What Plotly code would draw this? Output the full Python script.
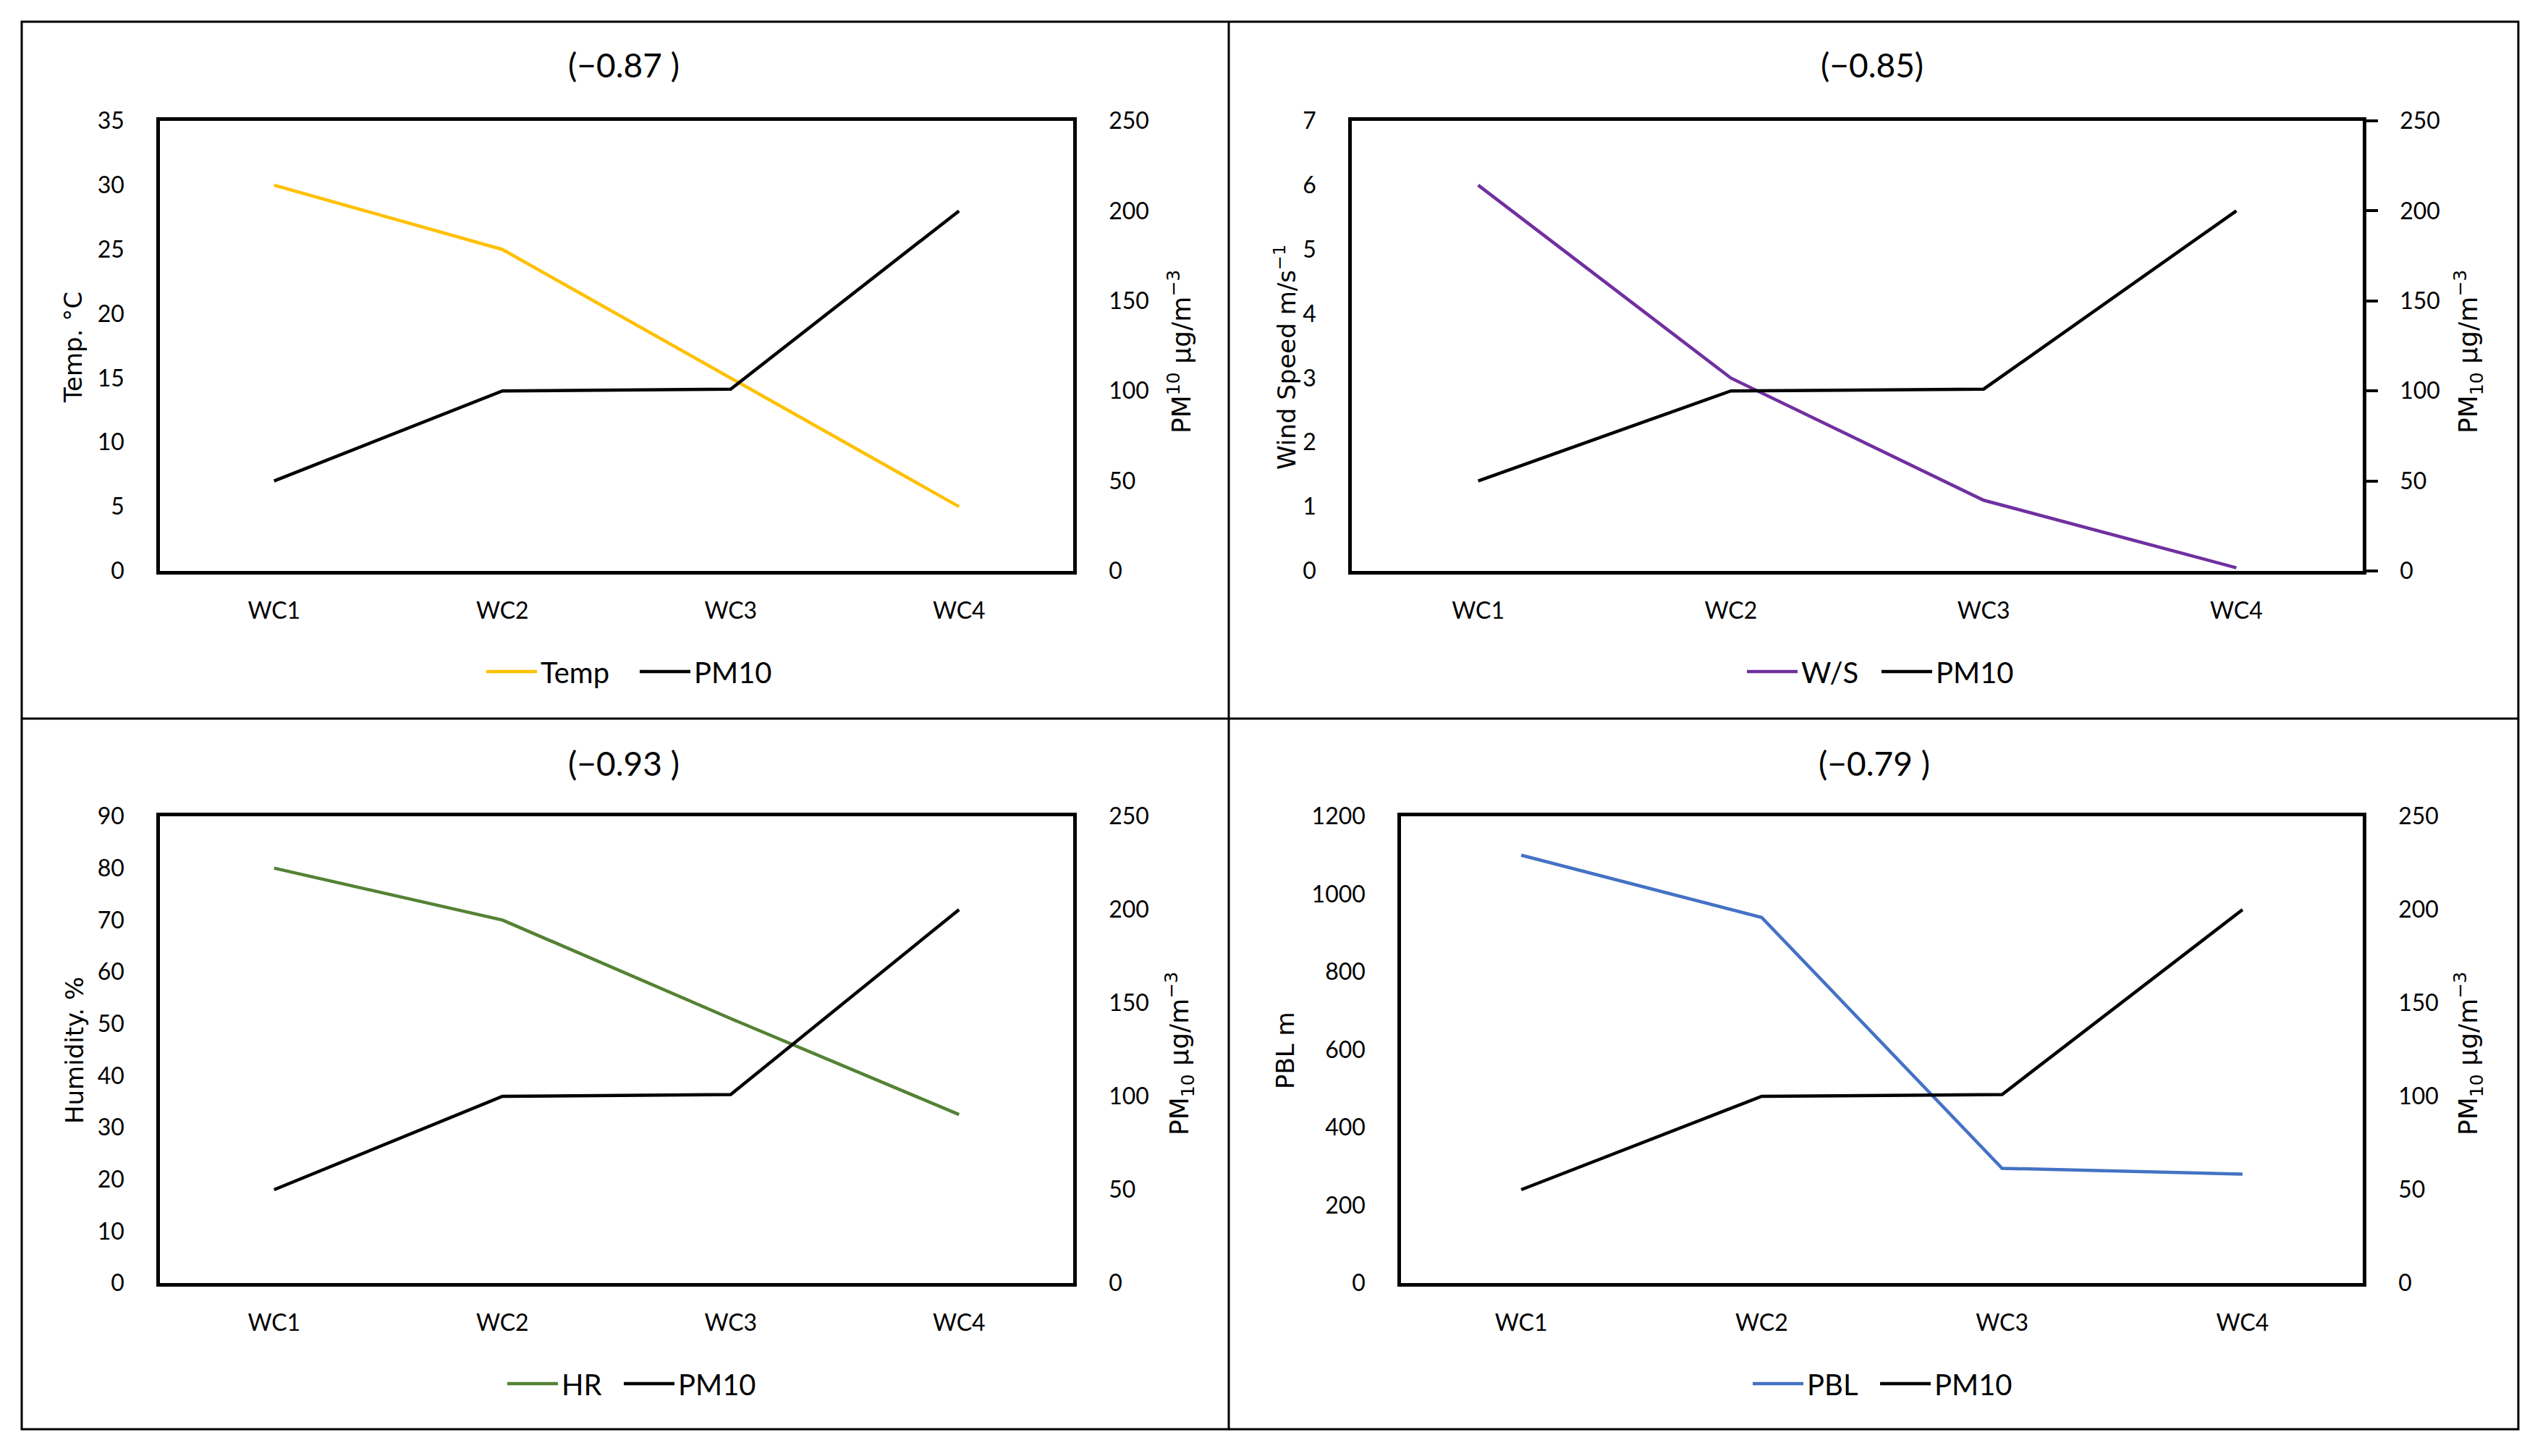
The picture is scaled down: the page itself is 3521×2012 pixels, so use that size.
import plotly.graph_objects as go

# ---------------- data ----------------
categories = ["WC1", "WC2", "WC3", "WC4"]
pm10 = [50, 100, 101, 200]
temp = [30, 25, 15, 5]
wind_speed = [6, 3, 1.1, 0.05]
humidity = [80, 70, 51, 32.5]
pbl = [1100, 940, 295, 280]

titles = ["(\u22120.87 )", "(\u22120.85)", "(\u22120.93 )", "(\u22120.79 )"]
left_titles = ["Temp. \u00b0C", "Wind Speed m/s<sup>\u22121</sup>", "Humidity. %", "PBL m"]
right_titles = ["PM<sup>10</sup> \u00b5g/m<sup>\u22123</sup>",
                "PM<sub>10</sub> \u00b5g/m<sup>\u22123</sup>",
                "PM<sub>10</sub> \u00b5g/m<sup>\u22123</sup>",
                "PM<sub>10</sub> \u00b5g/m<sup>\u22123</sup>"]
series_names = ["Temp", "W/S", "HR", "PBL"]
series_values = [temp, wind_speed, humidity, pbl]
left_ranges = [(0, 35, 5), (0, 7, 1), (0, 90, 10), (0, 1200, 200)]
right_range = (0, 250, 50)

# ---------------- styling / layout ----------------
W, H = 3521, 2012
def px(x):
    return x / W
def py(y):
    return 1 - y / H

colors = ["#FFC000", "#7030A0", "#548235", "#4472C4"]
TICK_FONT = dict(family="Lato", size=32, color="#000000")
TITLE_FONT = dict(family="Lato", size=46, color="#000000")
AXT_FONT = dict(family="DejaVu Sans", size=34, color="#000000")
RAXT_FONT = dict(family="DejaVu Sans", size=36, color="#000000")
LEG_FONT = dict(family="Lato", size=40, color="#000000")

panels = [
    dict(xd=(221, 1483), yd=(167, 789), tx=862, ty=90, lt=101, ltc=480, rt=1630, rtc=486,
         leg=(672, 884), legy=928),
    dict(xd=(1868, 3265), yd=(167, 789), tx=2587, ty=90, lt=1776, ltc=494, rt=3411, rtc=486,
         leg=(2414, 2600), legy=928),
    dict(xd=(221, 1483), yd=(1128, 1773), tx=862, ty=1054, lt=103, ltc=1452, rt=1630, rtc=1456,
         leg=(701, 862), legy=1912),
    dict(xd=(1936, 3265), yd=(1128, 1773), tx=2590, ty=1054, lt=1776, ltc=1452, rt=3411, rtc=1456,
         leg=(2422, 2598), legy=1912),
]

fig = go.Figure()
layout = dict(width=W, height=H, margin=dict(l=0, r=0, t=0, b=0, autoexpand=False),
              paper_bgcolor="white", plot_bgcolor="white", showlegend=True)
annotations = []

for i, p in enumerate(panels):
    n = i + 1
    xname = "x" if n == 1 else f"x{n}"
    yl = 2 * n - 1
    yr = 2 * n
    ylname = "y" if yl == 1 else f"y{yl}"
    yrname = f"y{yr}"
    leg_a = "legend" if n == 1 else f"legend{2 * n - 1}"
    leg_b = f"legend{2 * n}"

    fig.add_trace(go.Scatter(x=categories, y=series_values[i], name=series_names[i],
                             mode="lines", line=dict(color=colors[i], width=4.5),
                             xaxis=xname, yaxis=ylname, legend=leg_a))
    fig.add_trace(go.Scatter(x=categories, y=pm10, name="PM10",
                             mode="lines", line=dict(color="#000000", width=4.5),
                             xaxis=xname, yaxis=yrname, legend=leg_b))

    xkey = "xaxis" if n == 1 else f"xaxis{n}"
    ylkey = "yaxis" if yl == 1 else f"yaxis{yl}"
    yrkey = f"yaxis{yr}"
    x0, x1 = p["xd"]
    ytop, ybot = p["yd"]
    layout[xkey] = dict(domain=[px(x0), px(x1)], anchor=ylname, type="category",
                        range=[-0.5, 3.5], showgrid=False, zeroline=False,
                        showline=True, linecolor="#000000", linewidth=4.5, mirror=True,
                        ticks="", tickfont=TICK_FONT, ticklabelstandoff=23)
    lo, hi, dt = left_ranges[i]
    layout[ylkey] = dict(domain=[py(ybot), py(ytop)], anchor=xname, range=[lo, hi],
                         dtick=dt, tick0=0, showgrid=False, zeroline=False,
                         showline=True, linecolor="#000000", linewidth=4.5, mirror=True,
                         ticks="", tickfont=TICK_FONT, ticklabelstandoff=38)
    ry = dict(overlaying=ylname, side="right", anchor=xname, range=[right_range[0], right_range[1]],
              dtick=right_range[2], tick0=0, showgrid=False, zeroline=False,
              showline=True, linecolor="#000000", linewidth=4.5,
              tickfont=TICK_FONT)
    if n == 2:
        ry.update(ticks="outside", ticklen=16, tickwidth=4, tickcolor="#000000", ticklabelstandoff=24)
    else:
        ry.update(ticks="", ticklabelstandoff=38)
    layout[yrkey] = ry

    for lname, lx in ((leg_a, p["leg"][0]), (leg_b, p["leg"][1])):
        layout[lname] = dict(x=px(lx - 5), y=py(p["legy"]), xanchor="left", yanchor="middle",
                             orientation="h", font=LEG_FONT, bgcolor="rgba(0,0,0,0)",
                             itemwidth=70, itemclick=False, itemdoubleclick=False)

    annotations.append(dict(text=titles[i], x=px(p["tx"]), y=py(p["ty"]), xref="paper", yref="paper",
                            showarrow=False, font=TITLE_FONT, xanchor="center", yanchor="middle"))
    annotations.append(dict(text=left_titles[i], x=px(p["lt"]), y=py(p["ltc"]), xref="paper", yref="paper",
                            showarrow=False, font=AXT_FONT, textangle=-90,
                            xanchor="center", yanchor="middle"))
    annotations.append(dict(text=right_titles[i], x=px(p["rt"]), y=py(p["rtc"]), xref="paper", yref="paper",
                            showarrow=False, font=RAXT_FONT, textangle=-90,
                            xanchor="center", yanchor="middle"))

shapes = [
    dict(type="rect", xref="paper", yref="paper", x0=px(30), x1=px(3480), y0=py(1975), y1=py(30),
         line=dict(color="#000000", width=3)),
    dict(type="line", xref="paper", yref="paper", x0=px(1698), x1=px(1698), y0=py(1975), y1=py(30),
         line=dict(color="#000000", width=3)),
    dict(type="line", xref="paper", yref="paper", x0=px(30), x1=px(3480), y0=py(993), y1=py(993),
         line=dict(color="#000000", width=3)),
]

layout["annotations"] = annotations
layout["shapes"] = shapes
fig.update_layout(**layout)

fig.write_html("out.html", config={"displayModeBar": False},
               post_script="document.body.style.margin='0';document.body.style.overflow='hidden';")
